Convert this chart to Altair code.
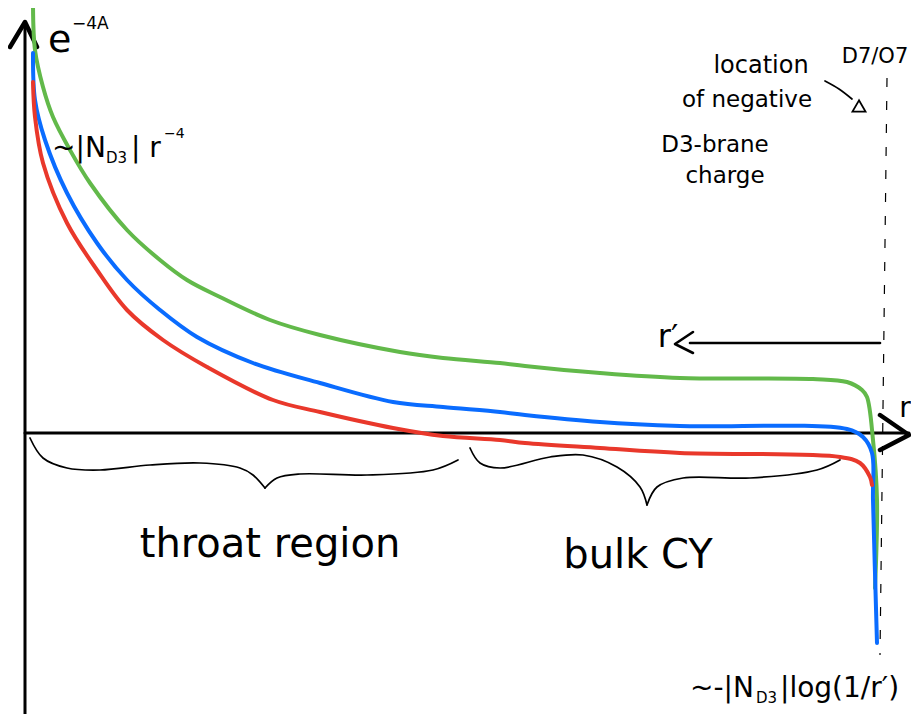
import altair as alt
import pandas as pd

# ---- data (r = distance along the radial axis, v = value of e^{-4A}; 0 = r axis) ----
green_r = [8, 10, 18, 28, 45, 65, 102, 135, 162, 195, 245, 295, 375, 418, 475, 500, 575, 655, 788, 822, 837, 842, 848, 852, 850]
green_v = [429, 383, 346, 316, 283, 250, 203, 173, 153, 136, 113, 98, 81, 75, 70, 67, 60, 55, 54, 51, 43, 36, -7, -67, -155]
blue_r = [8, 10, 20, 42, 72, 102, 135, 172, 228, 295, 368, 418, 475, 500, 575, 655, 822, 838, 847, 848, 852]
blue_v = [380, 333, 293, 240, 190, 153, 123, 96, 70, 50, 31, 26, 21, 18, 11, 7, 4, -4, -20, -67, -210]
red_r = [8, 10, 18, 42, 72, 102, 138, 182, 248, 295, 368, 418, 475, 500, 575, 655, 815, 835, 845, 847]
red_v = [351, 316, 270, 210, 163, 123, 93, 66, 33, 21, 5, -3, -7, -10, -15, -20, -24, -30, -44, -52]

series_names = ["green", "blue", "red"]
series_colors = ["#62b94a", "#0a6cff", "#e9382b"]

# axes and arrows
axis_y_r, axis_y_v = [0, 0], [-290, 411]
axis_x_r, axis_x_v = [0, 884], [0, 0]
head_y_r, head_y_v = [-15, 0, 12], [386, 411, 386]
head_x_r, head_x_v = [855, 884, 855], [18, -2, -17]
rprime_r, rprime_v = [855, 665], [90, 90]
rprime_head_r, rprime_head_v = [668, 650, 668], [101, 89, 80]

# braces (two halves each)
throat_l_r = [5, 18, 42, 75, 125, 175, 215, 228, 240]
throat_l_v = [-5, -25, -35, -37, -32, -30, -35, -42, -55]
throat_r_r = [240, 252, 275, 342, 408, 433]
throat_r_v = [-55, -45, -41, -42, -37, -27]
bulk_l_r = [445, 455, 475, 525, 558, 592, 615, 622]
bulk_l_v = [-15, -30, -35, -24, -22, -34, -54, -72]
bulk_r_r = [622, 632, 658, 725, 792, 815]
bulk_r_v = [-72, -54, -45, -45, -37, -27]

# pointer from the label to the brane location
pointer_r, pointer_v = [800, 814, 827], [352, 344, 334]
tri_r, tri_v = [834], [327]

# D7/O7 dashed location
dash_r, dash_v, dash_r2, dash_v2 = [862], [355], [855], [-222]

# text labels
lt_text = ["e", "\u22124A", "~|N", "D3", "| r", "\u22124", "~-|N", "D3", "|log(1/r\u2032)"]
lt_r = [23, 47, 27, 81, 106, 139, 665, 731, 755]
lt_v = [381, 404, 276, 270, 276, 295, -264, -270, -264]
lt_size = [38, 17, 28, 15, 28, 14, 28, 15, 28]

ct_text = ["location", "of negative", "D3-brane", "charge", "D7/O7", "r\u2032", "r", "throat region", "bulk CY"]
ct_r = [736, 722, 690, 700, 850, 643, 880, 245, 613]
ct_v = [360, 326, 281, 250, 370, 86, 16, -124, -135]
ct_size = [24, 23, 23, 23, 21, 32, 28, 40, 40]


def line_df(name, rs, vs):
    return pd.DataFrame({"id": name, "seq": list(range(len(rs))), "r": rs, "v": vs})


xs = alt.Scale(domain=[-17, 886], nice=False, zero=False)
ys = alt.Scale(domain=[-281, 425], nice=False, zero=False)
X = alt.X("r:Q", scale=xs, axis=None)
Y = alt.Y("v:Q", scale=ys, axis=None)

curves = pd.concat([
    line_df("green", green_r, green_v),
    line_df("blue", blue_r, blue_v),
    line_df("red", red_r, red_v),
])

axes_df = pd.concat([
    line_df("ay", axis_y_r, axis_y_v),
    line_df("ax", axis_x_r, axis_x_v),
])
heads_df = pd.concat([
    line_df("hy", head_y_r, head_y_v),
    line_df("hx", head_x_r, head_x_v),
])
rprime_df = pd.concat([
    line_df("rl", rprime_r, rprime_v),
    line_df("rh", rprime_head_r, rprime_head_v),
])
brace_df = pd.concat([
    line_df("tl", throat_l_r, throat_l_v),
    line_df("tr", throat_r_r, throat_r_v),
    line_df("bl", bulk_l_r, bulk_l_v),
    line_df("br", bulk_r_r, bulk_r_v),
    line_df("p", pointer_r, pointer_v),
])


def strokes(df, width, interp="linear"):
    return alt.Chart(df).mark_line(
        color="black", strokeWidth=width, strokeCap="round", strokeJoin="round",
        interpolate=interp, clip=True
    ).encode(x=X, y=Y, detail="id:N", order="seq:Q")


dash = alt.Chart(pd.DataFrame({"r": dash_r, "v": dash_v, "r2": dash_r2, "v2": dash_v2})).mark_rule(
    color="black", strokeWidth=1.2, strokeDash=[9, 14]
).encode(x=X, y=Y, x2="r2:Q", y2="v2:Q")

tri = alt.Chart(pd.DataFrame({"r": tri_r, "v": tri_v})).mark_point(
    shape="triangle-up", filled=False, color="black", size=170, strokeWidth=1.8, opacity=1
).encode(x=X, y=Y)

curve_layer = alt.Chart(curves).mark_line(
    strokeWidth=4, strokeCap="round", strokeJoin="round", interpolate="catmull-rom", clip=True
).encode(
    x=X, y=Y, detail="id:N", order="seq:Q",
    color=alt.Color("id:N", scale=alt.Scale(domain=series_names, range=series_colors), legend=None),
)

left_texts = alt.Chart(pd.DataFrame({"t": lt_text, "r": lt_r, "v": lt_v, "s": lt_size})).mark_text(
    align="left", baseline="alphabetic", font="DejaVu Sans", color="black"
).encode(x=X, y=Y, text="t:N", size=alt.Size("s:Q", scale=None, legend=None))

center_texts = alt.Chart(pd.DataFrame({"t": ct_text, "r": ct_r, "v": ct_v, "s": ct_size})).mark_text(
    align="center", baseline="alphabetic", font="DejaVu Sans", color="black"
).encode(x=X, y=Y, text="t:N", size=alt.Size("s:Q", scale=None, legend=None))

chart = alt.layer(
    dash,
    strokes(axes_df, 3),
    strokes(heads_df, 4.5),
    strokes(rprime_df, 2.6),
    strokes(brace_df, 1.7, "catmull-rom"),
    tri,
    curve_layer,
    left_texts,
    center_texts,
).properties(
    width=903, height=706, padding=0, autosize="none"
).configure_view(stroke=None)

chart.save("out.html", embed_options={"renderer": "svg", "actions": False})
